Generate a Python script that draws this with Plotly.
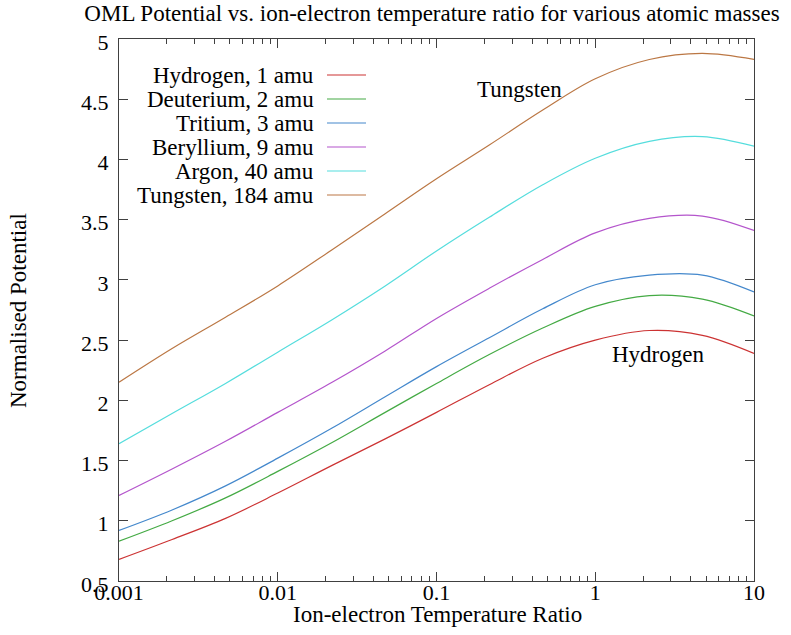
import plotly.graph_objects as go

ratio = [0.001, 0.00216, 0.00469, 0.01, 0.022, 0.0475, 0.1, 0.215, 0.467, 1.0, 2.19, 4.73, 10.0]

names = ["Hydrogen, 1 amu", "Deuterium, 2 amu", "Tritium, 3 amu",
         "Beryllium, 9 amu", "Argon, 40 amu", "Tungsten, 184 amu"]
hydrogen = [0.68, 0.845, 1.02, 1.23, 1.46, 1.68, 1.90, 2.13, 2.35, 2.50, 2.58, 2.54, 2.39]
deuterium = [0.83, 1.00, 1.19, 1.41, 1.65, 1.90, 2.14, 2.38, 2.60, 2.78, 2.87, 2.84, 2.70]
tritium = [0.92, 1.09, 1.29, 1.52, 1.77, 2.03, 2.28, 2.52, 2.76, 2.96, 3.04, 3.04, 2.90]
beryllium = [1.21, 1.43, 1.66, 1.90, 2.15, 2.41, 2.68, 2.93, 3.17, 3.39, 3.51, 3.53, 3.41]
argon = [1.64, 1.89, 2.14, 2.40, 2.67, 2.95, 3.24, 3.52, 3.79, 4.01, 4.15, 4.19, 4.11]
tungsten = [2.15, 2.43, 2.69, 2.95, 3.25, 3.55, 3.84, 4.12, 4.41, 4.67, 4.83, 4.88, 4.83]
series = [hydrogen, deuterium, tritium, beryllium, argon, tungsten]
colors = ["#cc3333", "#44aa44", "#4488cc", "#b455cc", "#55dddd", "#bb7744"]

xticks = [0.001, 0.01, 0.1, 1, 10]
xticklabels = ["0.001", "0.01", "0.1", "1", "10"]

FONT = "Liberation Serif"
TOP, BOTTOM, LEFT, RIGHT = 39, 581, 119, 754
W = float(RIGHT - LEFT)
H = float(BOTTOM - TOP)

fig = go.Figure()
for name, ys, c in zip(names, series, colors):
    fig.add_trace(go.Scatter(x=ratio, y=ys, mode="lines", name=name,
                             line=dict(color=c, width=1.2, shape="spline", smoothing=1.0)))

# custom legend (text right-aligned, sample to the right)
row_px = [75, 99, 123, 147, 171, 195]
for name, c, py in zip(names, colors, row_px):
    yp = 1 - (py - TOP) / H
    fig.add_annotation(x=(316 - LEFT) / W, y=yp, xref="paper", yref="paper", text=name,
                       showarrow=False, xanchor="right", yanchor="middle",
                       font=dict(family=FONT, size=23, color="black"))
    fig.add_shape(type="line", xref="paper", yref="paper",
                  x0=(327 - LEFT) / W, x1=(366 - LEFT) / W,
                  y0=yp, y1=yp, line=dict(color=c, width=1.2))

fig.add_annotation(x=-0.478, y=4.58, text="Tungsten", showarrow=False,
                   font=dict(family=FONT, size=23, color="black"))
fig.add_annotation(x=0.396, y=2.38, text="Hydrogen", showarrow=False,
                   font=dict(family=FONT, size=23, color="black"))

# axis titles
fig.add_annotation(x=(437 - LEFT) / W, y=(BOTTOM - 614) / H, xref="paper", yref="paper",
                   text="Ion-electron Temperature Ratio", showarrow=False,
                   xanchor="center", yanchor="middle",
                   font=dict(family=FONT, size=23, color="black"))
fig.add_annotation(x=(18 - LEFT) / W, y=1 - (310 - TOP) / H, xref="paper", yref="paper",
                   text="Normalised Potential", showarrow=False, textangle=-90,
                   xanchor="center", yanchor="middle",
                   font=dict(family=FONT, size=23, color="black"))

fig.update_layout(
    width=791, height=635,
    margin=dict(l=LEFT, r=791 - RIGHT, t=TOP, b=635 - BOTTOM),
    paper_bgcolor="white", plot_bgcolor="white",
    showlegend=False,
    font=dict(family=FONT, size=22, color="black"),
    title=dict(text="OML Potential vs. ion-electron temperature ratio for various atomic masses",
               x=432 / 791, xanchor="center", y=1 - 13 / 635, yanchor="middle", xref="container",
               font=dict(family=FONT, size=23, color="black")),
)
fig.update_xaxes(type="log", range=[-3, 1], tickvals=xticks, ticktext=xticklabels,
                 ticks="inside", ticklen=9, tickcolor="#404040",
                 showline=True, linecolor="#404040", linewidth=1, mirror="ticks",
                 showgrid=False, zeroline=False,
                 minor=dict(ticks="inside", ticklen=5, tickcolor="#404040", dtick="D1", showgrid=False),
                 ticklabelstandoff=-8,
                 tickfont=dict(family=FONT, size=22))
fig.update_yaxes(range=[0.5, 5], dtick=0.5, tick0=0.5,
                 ticks="inside", ticklen=9, tickcolor="#404040",
                 showline=True, linecolor="#404040", linewidth=1, mirror="ticks",
                 showgrid=False, zeroline=False,
                 ticklabelstandoff=5, ticklabelshift=3,
                 tickfont=dict(family=FONT, size=22))

fig.write_html("out.html")
